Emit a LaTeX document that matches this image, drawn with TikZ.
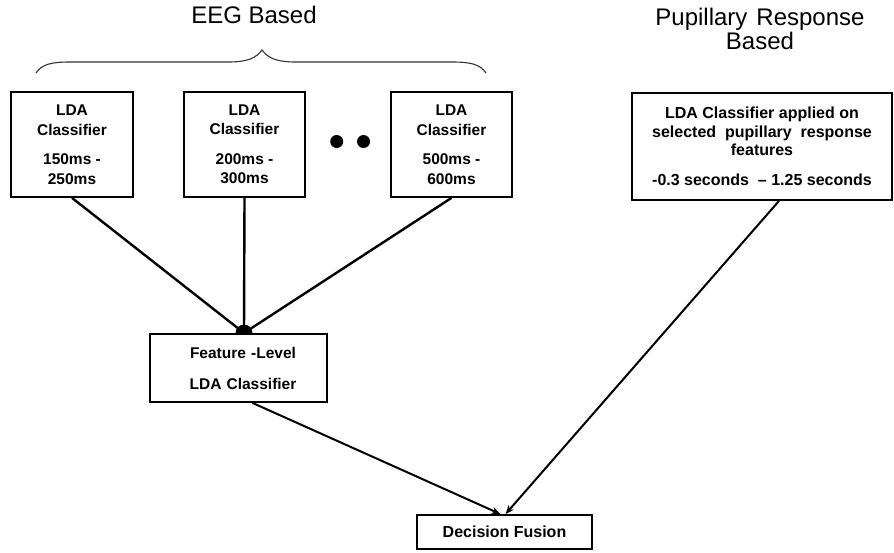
\documentclass[tikz,border=0pt]{standalone}
\usepackage{fontspec}
\setmainfont{Liberation Sans}
\usetikzlibrary{calc,arrows.meta}
\begin{document}
\begin{tikzpicture}[x=1pt,y=-1pt,
  box/.style={draw=black, line width=1.8pt, fill=white, inner sep=0pt, align=center,
    font=\bfseries\fontsize{15.5}{19.5}\selectfont},
  conn/.style={line width=2.4pt, black},
  arr/.style={line width=2pt, black, -{Stealth[length=9pt,width=7pt]}},
  heading/.style={font=\fontsize{24}{27}\selectfont, inner sep=0pt, anchor=base},
  blob/.style={circle, fill=black, inner sep=0pt}
]
\useasboundingbox (0,0) rectangle (894,552);

% headings
\node[heading] (eeg) at (254,23) {EEG Based};
\node[heading] (pr1) at (760,25) {Pupillary\hspace{9pt}Response};
\node[heading] (pr2) at (760,49) {Based};

% brace
\draw[line width=1.1pt, black!80] (36,73) .. controls (42,64) and (52,62) .. (70,62)
  -- (228,62) .. controls (248,62) and (256,58) .. (262,50)
  .. controls (268,58) and (276,62) .. (296,62)
  -- (452,62) .. controls (470,62) and (480,64) .. (486,73);

% EEG classifier boxes
\node[box, minimum width=122pt, minimum height=105pt] (b1) at (72,144.5)
  {LDA\\Classifier\\[10pt]150ms -\\250ms};
\node[box, minimum width=121pt, minimum height=105pt] (b2) at (244.5,144.5)
  {LDA\\Classifier\\[10pt]200ms -\\300ms};
\node[box, minimum width=121pt, minimum height=105pt] (b3) at (451.5,144.5)
  {LDA\\Classifier\\[10pt]500ms -\\600ms};

% ellipsis dots
\node[blob, minimum size=13pt] (d1) at (336.7,141.5) {};
\node[blob, minimum size=13pt] (d2) at (363.5,141.5) {};

% pupillary box
\node[box, minimum width=260pt, minimum height=107pt, font=\bfseries\fontsize{16}{18.5}\selectfont] (pup) at (762,146.5)
  {LDA Classifier applied on\\selected\ \ pupillary\ \ response\\features\\[11pt]-0.3 seconds\ \ -- 1.25 seconds};

% junction
\node[blob, minimum size=17pt] (jn) at (244,333) {};
\draw[conn] (b1.south) -- (jn.center);
\draw[conn] (b2.south) -- (jn.center);
\draw[conn] (b3.south) -- (jn.center);

% feature level box
\node[box, minimum width=177pt, minimum height=68pt, text width=177pt, font=\bfseries\fontsize{15.5}{31}\selectfont] (feat) at (238.5,368)
  {\hspace*{9pt}Feature -Level\\\hspace*{9pt}LDA Classifier};

% decision fusion
\node[box, minimum width=175pt, minimum height=34pt, font=\bfseries\fontsize{16}{18}\selectfont] (dec) at (504.5,532)
  {Decision Fusion};

% arrows
\draw[arr] ($(feat.south)+(14,0)$) -- ($(dec.north)+(-4,0)$);
\draw[arr] ($(pup.south)+(17,0)$) -- ($(dec.north)+(1,0)$);
\end{tikzpicture}
\end{document}
